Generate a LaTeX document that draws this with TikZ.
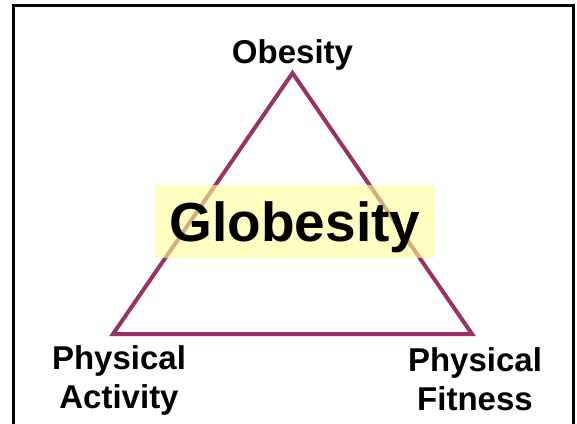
\documentclass[tikz,border=0pt]{standalone}
\usepackage{fontspec}
\setmainfont{Liberation Sans}
\usetikzlibrary{positioning}
\definecolor{trimaroon}{RGB}{153, 51, 102}
\definecolor{hiyellow}{RGB}{255, 255, 153}

\begin{document}
\begin{tikzpicture}[x=1pt, y=1pt,
  frame/.style={draw=black, line width=3pt},
  tri/.style={draw=trimaroon, line width=4pt},
  corner/.style={font=\fontsize{33}{39}\selectfont\bfseries, align=center, inner sep=0pt},
  hilite/.style={
    fill=hiyellow, fill opacity=0.6, text opacity=1,
    minimum width=280pt, minimum height=73pt, inner sep=0pt,
    text height=39pt, text depth=0pt,
    font=\fontsize{55}{60}\selectfont\bfseries
  }
]
\useasboundingbox (0,0) rectangle (577,423);

% ── Frame ─────────────────────────────────────────────────────────────────────
\draw[frame] (13,-10) -- (13,417) -- (573,417) -- (573,-10);

% ── Triangle ──────────────────────────────────────────────────────────────────
\coordinate (apex) at (292.5,350);
\coordinate (bl)   at (113,89);
\coordinate (br)   at (472,89);
\draw[tri] (apex) -- (bl) -- (br) -- cycle;

% ── Corner labels ─────────────────────────────────────────────────────────────
\node[corner, above=2pt of apex] (obes) {Obesity};
\node[corner, below=11pt of bl, xshift=6pt]
  (act) {Physical\\Activity};
\node[corner, below=13pt of br, xshift=3pt]
  (fit) {Physical\\Fitness};

% ── Centre label ──────────────────────────────────────────────────────────────
\node[hilite] (globe) at (295,201.5) {Globesity};

\end{tikzpicture}
\end{document}
